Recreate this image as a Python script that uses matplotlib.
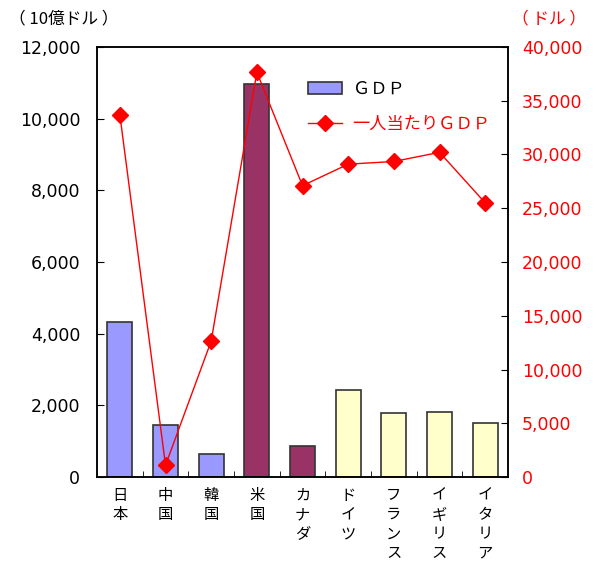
import matplotlib.pyplot as plt
from matplotlib.ticker import FuncFormatter, MultipleLocator, FixedLocator

plt.rcParams['font.family'] = ['Noto Sans CJK JP', 'DejaVu Sans']

# 国名（縦書き）
countries = ['日本', '中国', '韓国', '米国', 'カナダ', 'ドイツ', 'フランス', 'イギリス', 'イタリア']
# GDP（10億ドル）
gdp = [4330, 1440, 630, 10960, 870, 2430, 1790, 1810, 1500]
# 一人当たりGDP（ドル）
gdp_per_capita = [33700, 1100, 12650, 37650, 27100, 29100, 29350, 30200, 25500]
bar_colors = ['#9999FF', '#9999FF', '#9999FF', '#993366', '#993366',
              '#FFFFCC', '#FFFFCC', '#FFFFCC', '#FFFFCC']

fig = plt.figure(figsize=(5.97, 5.66), dpi=100)
ax = fig.add_axes([0.1625, 0.1572, 0.6885, 0.7598])
x = list(range(len(countries)))

bars = ax.bar(x, gdp, width=0.55, color=bar_colors, edgecolor='#333333',
              linewidth=1.2, label='ＧＤＰ')
ax.set_xlim(-0.5, len(countries) - 0.5)
ax.set_ylim(0, 12000)
ax.yaxis.set_major_locator(MultipleLocator(2000))
ax.yaxis.set_major_formatter(FuncFormatter(lambda v, p: f'{int(v):,}'))
ax.tick_params(axis='y', direction='in', length=5, pad=12, labelsize=12.5)
for t in ax.get_yticklabels():
    t.set_family('DejaVu Sans')

# 国名は一文字ずつ縦に並べる
ax.set_xticks(x)
ax.set_xticklabels(['\n'.join(c) for c in countries], fontsize=11,
                   linespacing=1.18, va='top')
ax.tick_params(axis='x', length=0, pad=7)
ax.xaxis.set_minor_locator(FixedLocator([i + 0.5 for i in x[:-1]]))
ax.tick_params(axis='x', which='minor', direction='in', length=4)

ax2 = ax.twinx()
line, = ax2.plot(x, gdp_per_capita, color='red', linewidth=1, marker='D',
                 markersize=8, label='一人当たりＧＤＰ')
ax2.set_ylim(0, 40000)
ax2.yaxis.set_major_locator(MultipleLocator(5000))
ax2.yaxis.set_major_formatter(FuncFormatter(lambda v, p: f'{int(v):,}'))
ax2.tick_params(axis='y', direction='in', length=5, pad=10, labelsize=12.5,
                labelcolor='red')
for t in ax2.get_yticklabels():
    t.set_family('DejaVu Sans')

for a in (ax, ax2):
    for s in a.spines.values():
        s.set_linewidth(1.1)

leg = ax2.legend([bars, line], ['ＧＤＰ', '一人当たりＧＤＰ'], loc='upper left',
                 bbox_to_anchor=(0.475, 0.96), frameon=False, fontsize=12.4,
                 handlelength=2.0, handleheight=0.7, handletextpad=0.6,
                 labelspacing=1.0)
leg.get_texts()[1].set_color('red')

fig.text(0.015, 0.967, '（ 10億ドル ）', fontsize=12, va='center', ha='left')
fig.text(0.858, 0.967, '（ ドル ）', fontsize=12, va='center', ha='left',
         color='red')

fig.savefig('out.png', dpi=100)
